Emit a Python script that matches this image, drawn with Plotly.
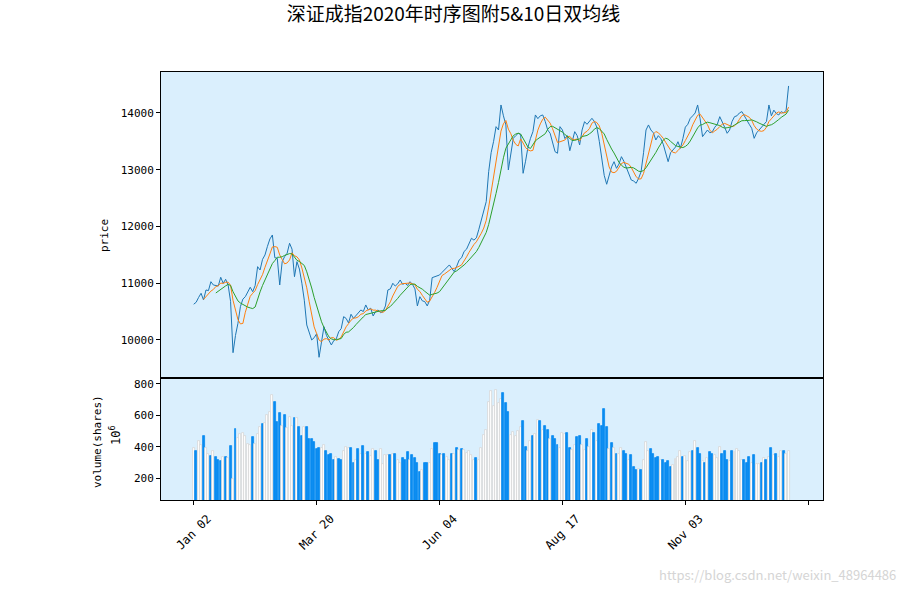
import plotly.graph_objects as go
import pandas as pd

# ---------------- data ----------------
tick_pos = [0, 50, 100, 150, 200, 250]
tick_text = ["Jan 02", "Mar 20", "Jun 04", "Aug 17", "Nov 03", ""]
price_ticks = [10000, 11000, 12000, 13000, 14000]
volume_ticks = [200, 400, 600, 800]

close = [
    10630, 10664, 10750, 10823, 10705, 10881, 10870, 11027, 10969, 10960,
    10951, 11105, 10999, 11069, 10969, 10680, 9776, 10080, 10294, 10587,
    10720, 10763, 10850, 10929, 10851, 10960, 11292, 11233, 11420, 11498,
    11650, 11780, 11850, 11450, 11440, 10969, 11380, 11470, 11528, 11704,
    11600, 11115, 11380, 11250, 11000, 10700, 10264, 10150, 10000, 10040,
    10110, 9695, 10000, 10234, 10080, 9980, 9912, 9990, 10020, 10146,
    10200, 10411, 10380, 10300, 10453, 10380, 10430, 10480, 10529, 10500,
    10617, 10529, 10560, 10423, 10500, 10529, 10480, 10500, 10600, 10881,
    10900, 10999, 10950, 10990, 11057, 10980, 11000, 10960, 11027, 10980,
    10900, 10599, 10763, 10690, 10676, 10600, 10700, 11098, 11110, 11130,
    11145, 11190, 11233, 11290, 11322, 11260, 11204, 11300, 11410, 11450,
    11560, 11600, 11700, 11792, 11760, 11800, 11950, 12100, 12250, 12438,
    12966, 13300, 13500, 13759, 13700, 14141, 13950, 13789, 12996, 13300,
    13553, 13600, 13642, 13620, 12937, 13150, 13400, 13553, 13671, 13965,
    13900, 13950, 13965, 13850, 13700, 13642, 13450, 13318, 13290, 13759,
    13700, 13550, 13600, 13335, 13500, 13671, 13600, 13436, 13700, 13847,
    13800, 13850, 13906, 13850, 13750, 13500, 13200, 12900, 12744, 12900,
    13050, 13142, 13025, 13100, 13230, 13150, 13050, 12950, 12819, 12800,
    12761, 12850, 12966, 13300, 13700, 13789, 13700, 13650, 13524, 13600,
    13550, 13450, 13290, 13142, 13300, 13350, 13400, 13494, 13377, 13550,
    13750, 13800, 13906, 13950, 14000, 14141, 13900, 13583, 13650, 13700,
    13650, 13671, 13750, 13800, 13935, 13850, 13750, 13642, 13700, 13850,
    13935, 13950, 14000, 14024, 13950, 13850, 13800, 13730, 13553, 13650,
    13700, 13750, 13800, 13850, 14141, 13950, 14050, 13990, 13965, 14024,
    14000, 14050, 14476,
]

# volume in units of 10^6 shares
volume = [
    394, 377, 436, 411, 466, 394, 358, 344, 377, 333,
    320, 308, 337, 339, 330, 403, 198, 514, 455, 479,
    489, 468, 420, 415, 460, 420, 483, 527, 542, 552,
    603, 622, 730, 687, 557, 614, 535, 605, 517, 588,
    535, 586, 582, 529, 468, 525, 523, 453, 453, 434,
    384, 390, 396, 415, 377, 346, 358, 320, 333, 324,
    320, 373, 398, 394, 396, 301, 320, 384, 352, 403,
    352, 365, 341, 384, 377, 320, 388, 293, 348, 348,
    346, 354, 352, 314, 299, 327, 320, 365, 314, 346,
    327, 301, 244, 257, 295, 301, 295, 384, 422, 422,
    358, 346, 358, 333, 320, 358, 352, 390, 379, 384,
    379, 363, 373, 346, 320, 327, 320, 390, 474, 510,
    687, 751, 662, 757, 680, 704, 738, 675, 622, 474,
    493, 468, 500, 525, 565, 400, 373, 436, 472, 481,
    569, 565, 510, 533, 510, 451, 472, 451, 409, 390,
    485, 479, 485, 390, 379, 409, 460, 466, 415, 379,
    453, 398, 510, 485, 436, 542, 535, 637, 529, 384,
    422, 390, 358, 352, 392, 371, 352, 320, 346, 276,
    257, 260, 257, 316, 430, 377, 384, 358, 327, 333,
    320, 320, 301, 308, 276, 284, 324, 335, 377, 335,
    341, 310, 367, 371, 436, 396, 352, 308, 301, 331,
    365, 352, 348, 327, 398, 358, 371, 320, 308, 371,
    367, 386, 373, 320, 320, 295, 339, 295, 346, 293,
    289, 301, 329, 314, 339, 390, 346, 358, 337, 377,
    377, 352, 373,
]

# u = up day (white bar), d = down day (blue bar); one letter per trading day
direction_rows = [
    "uduuduudud", "ddudududuu", "uuuuduuudu", "uuuddduduu", "ududdudddd",
    "dduuddddud", "duuuddudud", "uduudduuuu", "duduudddud", "dddudduudd",
    "duduududud", "uuuuuduuuu", "uuuuuudddu", "uuuudduudu", "ududdudddu",
    "uudduudduu", "duududdddu", "duduuddudd", "duduuudddd", "udddduuuud",
    "uuududdudu", "dduuudddud", "uuuudddudu", "ududududuu", "duu",
]
direction = list("".join(direction_rows))

# ---------------- figure ----------------
n = min(len(close), len(volume), len(direction))
x = list(range(len(close)))
s = pd.Series(close, dtype=float)
ma5 = s.rolling(5).mean()
ma10 = s.rolling(10).mean()

BLUE = "#0a8cf0"
bar_colors = ["#ffffff" if d == "u" else BLUE for d in direction[:n]]
bar_edges = ["#d6d6d6" if d == "u" else BLUE for d in direction[:n]]

fig = go.Figure()
fig.add_trace(go.Scatter(x=x, y=close, mode="lines", line=dict(color="#1f77b4", width=1),
                         xaxis="x", yaxis="y", showlegend=False, hoverinfo="skip"))
fig.add_trace(go.Scatter(x=x, y=ma5, mode="lines", line=dict(color="#ff7f0e", width=1),
                         xaxis="x", yaxis="y", showlegend=False, hoverinfo="skip"))
fig.add_trace(go.Scatter(x=x, y=ma10, mode="lines", line=dict(color="#2ca02c", width=1),
                         xaxis="x", yaxis="y", showlegend=False, hoverinfo="skip"))
fig.add_trace(go.Bar(x=x[:n], y=volume[:n], width=0.8,
                     marker=dict(color=bar_colors, line=dict(color=bar_edges, width=0.8)),
                     xaxis="x2", yaxis="y2", showlegend=False, hoverinfo="skip"))

CJK = "Noto Sans CJK SC"
MONO = "DejaVu Sans Mono"
vol_split = (500 - 378) / (500 - 72)
xr = [-13.3, 256]
axis_common = dict(showline=True, linecolor="black", linewidth=1, mirror=True,
                   showgrid=False, zeroline=False)
tickfont = dict(family=MONO, size=11, color="black")

fig.update_layout(
    width=907, height=592,
    margin=dict(l=161, r=84, t=72, b=92),
    paper_bgcolor="white", plot_bgcolor="#daeffd",
    font=dict(family=MONO, size=11, color="black"),
    bargap=0,
    title=dict(text="深证成指2020年时序图附5&10日双均线", x=0.5, xanchor="center",
               y=1 - 14 / 592, yanchor="middle", font=dict(family=CJK, size=19, color="black")),
    xaxis=dict(domain=[0, 1], anchor="y", range=xr, showticklabels=False, ticks="", **axis_common),
    yaxis=dict(domain=[vol_split, 1], anchor="x", range=[9330, 14722], tickvals=price_ticks,
               ticktext=[str(v) for v in price_ticks], tickfont=tickfont,
               ticks="outside", ticklen=4, tickcolor="black", **axis_common),
    xaxis2=dict(domain=[0, 1], anchor="y2", range=xr, tickvals=tick_pos, ticktext=tick_text,
                tickfont=dict(family=MONO, size=12, color="black"),
                ticklabelshift=14, ticklabelstandoff=2,
                tickangle=-45, ticks="outside", ticklen=4, tickcolor="black", **axis_common),
    yaxis2=dict(domain=[0, vol_split], anchor="x2", range=[64, 836], tickvals=volume_ticks,
                ticktext=[str(v) for v in volume_ticks], tickfont=tickfont,
                ticks="outside", ticklen=4, tickcolor="black", **axis_common),
)

W, H, L, B = 662, 428, 161, 92
def px(xp):
    return (xp - L) / W
def py(yp):
    return (592 - B - yp) / H

lab = dict(xref="paper", yref="paper", textangle=-90, showarrow=False,
           xanchor="center", yanchor="middle")
fig.add_annotation(text="price", x=px(104), y=py(236), font=dict(family=MONO, size=11), **lab)
fig.add_annotation(text="volume(shares)", x=px(97), y=py(442), font=dict(family=MONO, size=11), **lab)
fig.add_annotation(text="10<sup>6</sup>", x=px(115), y=py(435), font=dict(family=MONO, size=12), **lab)
fig.add_annotation(text="https://blog.csdn.net/weixin_48964486", x=px(898), y=py(574),
                   xref="paper", yref="paper", xanchor="right", yanchor="middle", showarrow=False,
                   font=dict(family=CJK, size=13, color="#d5d5d5"))

fig.write_html("out.html")
